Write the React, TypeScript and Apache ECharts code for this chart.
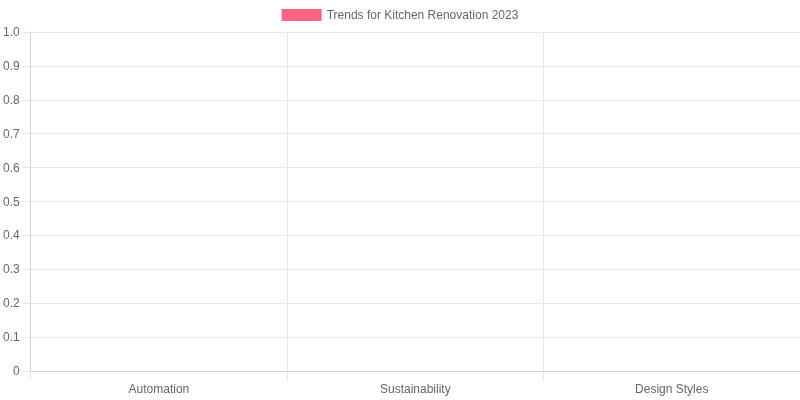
import React, { useEffect, useRef } from "react";
import * as echarts from "echarts";

const categories = ["Automation", "Sustainability", "Design Styles"];
const seriesName = "Trends for Kitchen Renovation 2023";
const values = [0, 0, 0];

export default function App() {
  const ref = useRef<HTMLDivElement>(null);
  useEffect(() => {
    if (!ref.current) return;
    const chart = echarts.init(ref.current, null, { renderer: "svg" });
    const font = "'Liberation Sans', Arial, Helvetica, sans-serif";
    const gridColor = "#e5e5e5";
    chart.setOption({
      animation: false,
      textStyle: { fontFamily: font },
      legend: {
        top: 9,
        left: "center",
        padding: 0,
        itemWidth: 40,
        itemHeight: 12,
        icon: "rect",
        textStyle: { color: "#666", fontSize: 12, fontFamily: font },
        data: [seriesName],
      },
      grid: { left: 30, right: 0, top: 32, bottom: 29, containLabel: false },
      xAxis: {
        type: "category",
        data: categories,
        boundaryGap: true,
        axisLine: { show: true, lineStyle: { color: "#d0d0d0" } },
        axisTick: { show: true, length: 9, lineStyle: { color: gridColor } },
        splitLine: { show: true, lineStyle: { color: gridColor } },
        axisLabel: { color: "#666", fontSize: 12, margin: 12, fontFamily: font },
      },
      yAxis: {
        type: "value",
        min: 0,
        max: 1,
        interval: 0.1,
        axisLine: { show: true, lineStyle: { color: "#d0d0d0" } },
        axisTick: { show: true, length: 8, lineStyle: { color: gridColor } },
        splitLine: { show: true, lineStyle: { color: gridColor } },
        axisLabel: {
          color: "#666",
          fontSize: 12,
          margin: 11,
          fontFamily: font,
          formatter: (v: number) => (v === 0 ? "0" : v.toFixed(1)),
        },
      },
      series: [
        {
          name: seriesName,
          type: "bar",
          data: values,
          itemStyle: { color: "#ff6384" },
        },
      ],
    });
    return () => chart.dispose();
  }, []);
  return (
    <div
      ref={ref}
      style={{ position: "fixed", left: 0, top: 0, width: 800, height: 400 }}
    />
  );
}
